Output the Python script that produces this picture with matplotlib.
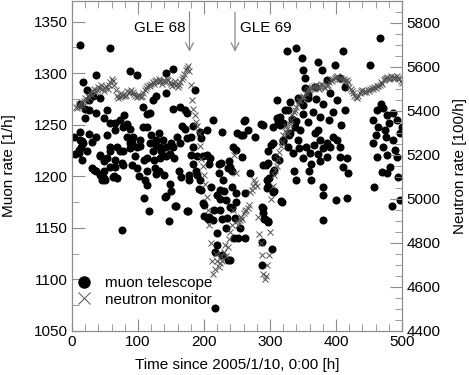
import numpy as np
import matplotlib.pyplot as plt
from matplotlib.ticker import MultipleLocator
from matplotlib.lines import Line2D

plt.rcParams['font.family'] = ['Liberation Sans', 'DejaVu Sans']
plt.rcParams['font.size'] = 11

# muon telescope, hourly counts [1/h]
muon_time = [12, 58, 16, 23, 37, 25, 32, 42, 12, 19, 26, 19, 37, 53, 48, 58, 65, 73, 79, 83,
             77, 88, 12, 12, 14, 11, 17, 25, 37, 53, 58, 68, 42, 53, 48, 30, 37, 42, 48, 62,
             68, 65, 77, 88, 93, 98, 77, 83, 98, 58, 15, 11, 23, 31, 15, 42, 57, 65, 73, 76,
             65, 91, 88, 103, 109, 124, 33, 48, 45, 50, 64, 91, 101, 111, 114, 109, 117, 75, 3, 5,
             98, 88, 103, 108, 113, 118, 123, 128, 133, 138, 143, 148, 153, 159, 164, 108, 113, 118, 123, 128,
             143, 153, 143, 153, 164, 171, 174, 166, 171, 181, 177, 113, 126, 128, 133, 113, 148, 132, 127, 135,
             142, 150, 155, 174, 162, 165, 132, 139, 177, 142, 158, 147, 174, 180, 141, 150, 156, 175, 96, 120,
             184, 184, 194, 189, 199, 207, 209, 222, 214, 186, 184, 194, 189, 195, 204, 227, 204, 188, 226, 238,
             242, 230, 219, 233, 195, 200, 207, 215, 227, 242, 223, 192, 199, 200, 206, 214, 224, 224, 224, 235,
             239, 219, 219, 217, 227, 237, 245, 234, 217, 242, 249, 254, 252, 262, 247, 239, 262, 244, 239, 257,
             259, 262, 270, 256, 248, 248, 250, 229, 211, 236,
             289, 305, 310, 315, 319, 330, 338, 342, 320, 327, 335, 305, 308, 297, 290, 305, 295, 310, 330, 323,
             261, 287, 312, 315, 297, 314, 294, 306, 298, 297, 336, 339, 306, 317, 289, 291, 297, 320, 344, 350,
             359, 362, 329, 288, 290, 292, 297, 288, 288, 303, 305, 318, 295, 302, 278, 266,
             325, 340, 348, 411, 372, 350, 353, 379, 398, 345, 357, 353, 368, 386, 391, 406, 414, 401, 414, 355,
             361, 368, 373, 376, 381, 386, 391, 396, 401, 406, 386, 406, 411, 416, 418, 327, 339, 357, 350, 342,
             357, 367, 372, 376, 380, 381, 381, 400, 416, 350, 365, 375, 345, 390, 395, 380, 370, 408, 333, 362,
             452, 466, 456, 462, 471, 477, 464, 474, 486, 492, 497, 456, 471, 462, 477, 492, 486, 482, 477, 494,
             470, 458, 485, 497, 468, 480, 500, 460, 489, 475]
muon_rate = [1327, 1324, 1291, 1284, 1298, 1274, 1278, 1276, 1270, 1265, 1264, 1257, 1261, 1264, 1257, 1252, 1252, 1255, 1259, 1251,
             1248, 1246, 1243, 1235, 1228, 1223, 1232, 1241, 1238, 1240, 1228, 1228, 1220, 1218, 1215, 1208, 1205, 1201, 1198, 1199,
             1198, 1209, 1211, 1232, 1238, 1228, 1225, 1238, 1208, 1209, 1234, 1226, 1225, 1233, 1216, 1221, 1225, 1216, 1225, 1213,
             1245, 1232, 1227, 1229, 1216, 1216, 1206, 1205, 1196, 1196, 1200, 1211, 1200, 1196, 1205, 1179, 1166, 1148, 1238, 1222,
             1298, 1302, 1235, 1248, 1248, 1232, 1225, 1235, 1228, 1235, 1228, 1222, 1228, 1238, 1232, 1267, 1260, 1261, 1274, 1278,
             1281, 1304, 1300, 1265, 1267, 1264, 1261, 1249, 1246, 1238, 1201, 1218, 1208, 1202, 1218, 1192, 1193, 1242, 1230, 1225,
             1220, 1232, 1218, 1237, 1205, 1199, 1205, 1201, 1196, 1181, 1171, 1157, 1166, 1221, 1180, 1186, 1171, 1166, 1220, 1240,
             1249, 1228, 1243, 1220, 1220, 1212, 1218, 1212, 1255, 1284, 1212, 1196, 1201, 1237, 1245, 1243, 1221, 1205, 1213, 1215,
             1205, 1186, 1182, 1177, 1187, 1172, 1161, 1167, 1159, 1169, 1203, 1188, 1174, 1162, 1159, 1158, 1187, 1178, 1167, 1160,
             1170, 1145, 1133, 1127, 1124, 1119, 1140, 1150, 1072, 1190, 1175, 1150, 1140, 1140, 1160, 1119, 1184, 1228, 1209, 1219,
             1240, 1255, 1203, 1240, 1226, 1184, 1242, 1196, 1190, 1208,
             1250, 1248, 1257, 1258, 1252, 1242, 1248, 1235, 1235, 1228, 1223, 1232, 1219, 1213, 1211, 1204, 1196, 1274, 1272, 1264,
             1254, 1251, 1253, 1250, 1225, 1216, 1211, 1206, 1198, 1191, 1205, 1196, 1186, 1176, 1169, 1159, 1157, 1234, 1227, 1218,
             1205, 1196, 1240, 1170, 1164, 1159, 1156, 1136, 1114, 1130, 1185, 1175, 1189, 1230, 1238, 1245,
             1322, 1324, 1315, 1322, 1311, 1303, 1295, 1303, 1308, 1274, 1279, 1286, 1287, 1293, 1281, 1295, 1287, 1274, 1264, 1228,
             1223, 1242, 1245, 1235, 1227, 1232, 1228, 1238, 1235, 1228, 1219, 1219, 1209, 1218, 1203, 1264, 1254, 1253, 1269, 1276,
             1276, 1230, 1222, 1215, 1158, 1182, 1190, 1177, 1179, 1260, 1262, 1258, 1245, 1255, 1262, 1270, 1275, 1250, 1256, 1212,
             1308, 1334, 1255, 1264, 1266, 1259, 1248, 1245, 1261, 1255, 1242, 1232, 1228, 1219, 1221, 1219, 1235, 1209, 1203, 1199,
             1204, 1190, 1171, 1177, 1270, 1252, 1248, 1240, 1226, 1238]

# neutron monitor, every 2 h from t = 6 h [100/h]
neutron_time = np.arange(6, 501, 2)
neutron_rate = [5420, 5412, 5430, 5418, 5440, 5425, 5445, 5460, 5450, 5470,
                5462, 5480, 5475, 5490, 5500, 5488, 5495, 5510, 5505, 5520,
                5500, 5490, 5505, 5515, 5498, 5520, 5530, 5545, 5535, 5520,
                5495, 5470, 5460, 5465, 5480, 5470, 5475, 5468, 5472, 5490,
                5480, 5488, 5495, 5485, 5478, 5470, 5465, 5475, 5470, 5462,
                5468, 5480, 5495, 5505, 5512, 5520, 5515, 5525, 5530, 5522,
                5535, 5540, 5530, 5545, 5538, 5525, 5535, 5542, 5530, 5545,
                5540, 5530, 5522, 5515, 5525, 5535, 5520, 5510, 5518, 5530,
                5545, 5555, 5570, 5585, 5595, 5605, 5580, 5520, 5450, 5410,
                5380, 5350, 5330, 5300, 5240, 5180, 5150, 5110, 5070, 5010,
                4950, 4880, 4800, 4720, 4660, 4680, 4750, 4720, 4690, 4710,
                4740, 4720, 4760, 4790, 4740, 4780, 4820, 4850, 4880, 4950,
                5200, 5120, 4900, 4880, 4905, 4920, 4910, 4935, 4945, 4950,
                4960, 4975, 5030, 5040, 5060, 5085, 5075, 5060, 4920, 4840,
                4800, 4745, 4660, 4635, 4650, 4700, 4745, 4850, 5000, 5060,
                5110, 5130, 5150, 5180, 5215, 5240, 5260, 5290, 5310, 5330,
                5320, 5300, 5340, 5360, 5380, 5395, 5405, 5420, 5430, 5445,
                5450, 5460, 5470, 5464, 5480, 5490, 5500, 5495, 5505, 5510,
                5515, 5505, 5520, 5510, 5500, 5515, 5525, 5520, 5510, 5505,
                5512, 5520, 5530, 5540, 5535, 5545, 5550, 5555, 5560, 5550,
                5545, 5550, 5540, 5545, 5535, 5540, 5530, 5510, 5500, 5490,
                5480, 5470, 5465, 5460, 5470, 5480, 5490, 5495, 5488, 5492,
                5485, 5495, 5490, 5500, 5505, 5498, 5510, 5505, 5515, 5512,
                5520, 5530, 5525, 5540, 5545, 5550, 5555, 5545, 5550, 5560,
                5550, 5555, 5548, 5560, 5552, 5545, 5535, 5527]

gle_time = [178, 247]
gle_label = ['GLE 68', 'GLE 69']

grey = '#8c8c8c'

fig = plt.figure(figsize=(4.69, 3.75), dpi=100)
ax = fig.add_axes([72 / 469, 44 / 375, 330 / 469, 330 / 375])
ax2 = ax.twinx()

ax.plot(muon_time, muon_rate, 'o', color='black', markersize=5.8, markeredgewidth=0)
ax2.plot(neutron_time, neutron_rate, 'x', color='#505050', markersize=5, markeredgewidth=0.7)

ax.set_xlim(0, 500)
ax.set_ylim(1050, 1370)
ax2.set_ylim(4400, 5900)

ax.xaxis.set_major_locator(MultipleLocator(100))
ax.xaxis.set_minor_locator(MultipleLocator(20))
ax.yaxis.set_major_locator(MultipleLocator(50))
ax.yaxis.set_minor_locator(MultipleLocator(25))
ax2.yaxis.set_major_locator(MultipleLocator(200))
ax2.yaxis.set_minor_locator(MultipleLocator(50))

ax.tick_params(which='both', direction='in', color=grey, top=True, right=False, pad=3)
ax.tick_params(which='major', length=9)
ax.tick_params(which='minor', length=5)
ax2.tick_params(which='both', direction='in', color=grey, pad=3)
ax2.tick_params(which='major', length=9)
ax2.tick_params(which='minor', length=5)
for a in (ax, ax2):
    for s in a.spines.values():
        s.set_color(grey)

ax.set_xlabel('Time since 2005/1/10, 0:00 [h]', labelpad=6)
ax.set_ylabel('Muon rate [1/h]', labelpad=13)
ax2.set_ylabel('Neutron rate [100/h]', labelpad=9)

# GLE arrows
for t, lab in zip(gle_time, gle_label):
    ax.annotate('', xy=(t, 1318), xytext=(t, 1362),
                arrowprops=dict(arrowstyle='->', color=grey, lw=0.9, mutation_scale=14))
ax.text(gle_time[0] - 6, 1344, gle_label[0], ha='right', va='center')
ax.text(gle_time[1] + 8, 1344, gle_label[1], ha='left', va='center')

handles = [Line2D([], [], ls='', marker='o', color='black', markersize=9, markeredgewidth=0),
           Line2D([], [], ls='', marker='x', color='#505050', markersize=9, markeredgewidth=0.7)]
ax2.legend(handles, ['muon telescope', 'neutron monitor'], loc='lower left',
           bbox_to_anchor=(-0.005, 0.074), frameon=False, borderpad=0, borderaxespad=0,
           handlelength=1.8, handletextpad=0.5, labelspacing=0.15)

fig.savefig('out.png', dpi=100)
